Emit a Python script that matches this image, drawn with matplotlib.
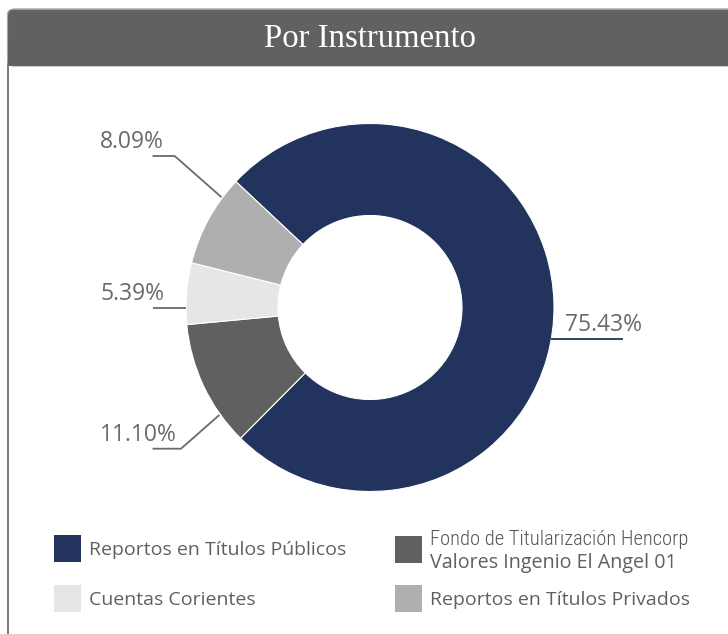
import numpy as np
import matplotlib
matplotlib.use('Agg')
import matplotlib.pyplot as plt
from matplotlib.patches import FancyBboxPatch, Rectangle

# Data
categories = ['Reportos en Títulos Públicos',
              'Fondo de Titularización Hencorp\nValores Ingenio El Angel 01',
              'Cuentas Corientes',
              'Reportos en Títulos Privados']
shares = [75.43, 11.10, 5.39, 8.09]
colors = ['#22335e', '#5f605f', '#e6e6e6', '#aeafae']
title = 'Por Instrumento'

# Layout (pixels, y downwards)
W, H = 728, 634
cx, cy, R = 370, 307.5, 184
start = 136.8
label_side = ['right', 'left', 'left', 'left']
label_line_y = [339, 448.7, 307.7, 156]
label_anchor = [None, 215.5, None, 143.4]   # where the crooked connectors touch the ring
legend_pos = [(54, 535), (395, 536), (54, 585), (395, 585)]
SQ = 27
txt_gray = '#6a6a6a'
leg_gray = '#606060'

fig = plt.figure(figsize=(W / 100, H / 100), dpi=100)

# background card in pixel space
bg = fig.add_axes([0, 0, 1, 1])
bg.set_xlim(0, W)
bg.set_ylim(H, 0)
bg.axis('off')
card = FancyBboxPatch((8, 9.5), 800, 800, boxstyle='round,pad=0,rounding_size=6',
                      facecolor='white', edgecolor='#7a7a7a', linewidth=1.3)
bg.add_patch(card)
bar = FancyBboxPatch((7.5, 9.3), 800, 56.7, boxstyle='round,pad=0,rounding_size=6',
                     facecolor='#606261', edgecolor='#a8a8a8', linewidth=0.8)
bg.add_patch(bar)
bg.add_patch(Rectangle((7.5, 40), 800, 26, facecolor='#606261', edgecolor='none'))
bg.plot([8, 8], [66, H], color='#7a7a7a', lw=1.3)
bg.text(370.5, 46.7, title, color='white', fontsize=23.6,
        family='Liberation Serif', ha='center', va='baseline')

# donut
pie_ax = fig.add_axes([(cx - R) / W, (H - cy - R) / H, 2 * R / W, 2 * R / H])
pie_ax.pie(shares, colors=colors, startangle=start, counterclock=False, radius=1,
           wedgeprops=dict(width=0.5, edgecolor='white', linewidth=0.8))
pie_ax.set_xlim(-1, 1)
pie_ax.set_ylim(-1, 1)
pie_ax.axis('off')

# labels / connectors overlay
ov = fig.add_axes([0, 0, 1, 1])
ov.set_xlim(0, W)
ov.set_ylim(H, 0)
ov.axis('off')
ov.patch.set_alpha(0)

for val, side, ly, anc in zip(shares, label_side, label_line_y, label_anchor):
    lab = f'{val:.2f}%'
    if side == 'right':
        sx = cx + np.sqrt(R ** 2 - (cy - ly) ** 2)
        ov.plot([sx, 622.7], [ly, ly], color='#22335e', lw=1.3, solid_capstyle='butt')
        ov.text(565, ly - 8, lab, color=txt_gray, fontsize=16.5,
                family='Open Sans', ha='left', va='baseline')
        continue
    if anc is None:
        sx = cx - np.sqrt(R ** 2 - (cy - ly) ** 2)
        xs, ys = [sx, 152.5], [ly, ly]
    else:
        a = np.deg2rad(anc)
        sx, sy = cx + (R + 1) * np.cos(a), cy - (R + 1) * np.sin(a)
        ex = sx - abs(ly - sy) / 0.88
        xs, ys = [sx, ex, 152.5], [sy, ly, ly]
    ov.plot(xs, ys, color=txt_gray, lw=1.3, solid_capstyle='butt')
    ov.text(100, ly - 8, lab, color=txt_gray, fontsize=16.5,
            family='Open Sans', ha='left', va='baseline')

# legend
for (lx, ly), name, col in zip(legend_pos, categories, colors):
    ov.add_patch(Rectangle((lx, ly), SQ, SQ, facecolor=col, edgecolor='none'))
    lines = name.split('\n')
    if len(lines) == 1:
        ov.text(lx + 35, ly + 20, name, color=leg_gray, fontsize=14.0,
                family='Open Sans', ha='left', va='baseline')
    else:
        ov.text(lx + 35.5, ly + 9, lines[0], color='#555555', fontsize=14.8,
                family=['Roboto Condensed', 'Roboto'], fontweight='light',
                ha='left', va='baseline')
        ov.text(lx + 35.5, ly + 32.3, lines[1], color=leg_gray, fontsize=14.2,
                family='Open Sans', ha='left', va='baseline')

fig.savefig('out.png', dpi=100)
